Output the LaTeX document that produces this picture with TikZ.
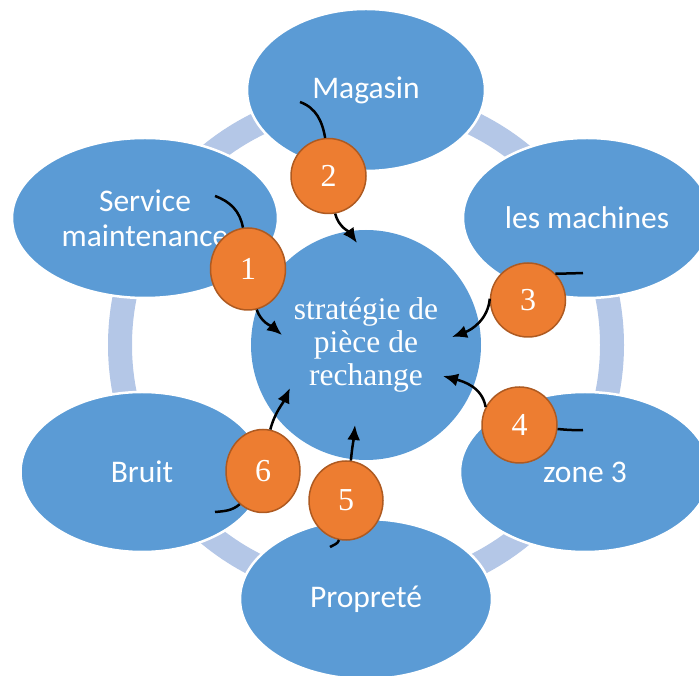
\documentclass[tikz,border=0pt]{standalone}
\usepackage{fontspec}
\setmainfont{Liberation Serif}
\newfontfamily\calibri{Carlito}
\usetikzlibrary{shapes.geometric,arrows.meta}
\definecolor{petalblue}{HTML}{5B9BD5}
\definecolor{ringblue}{HTML}{B4C7E7}
\definecolor{badgeorange}{HTML}{ED7D31}
\definecolor{badgeedge}{HTML}{AE5A21}
\begin{document}
\begin{tikzpicture}[x=1pt,y=1pt,
        petal/.style={ellipse,fill=petalblue,draw=white,line width=2.5pt,text=white,align=center,
            font=\calibri\fontsize{31.5}{35}\selectfont},
        hub/.style={circle,fill=petalblue,minimum size=230pt,text=white,align=center,
            font=\fontsize{31.5}{33}\selectfont},
        badge/.style={ellipse,fill=badgeorange,draw=badgeedge,line width=1.5pt,text=white,
            minimum width=75pt,minimum height=75pt,font=\fontsize{32}{32}\selectfont},
        flow/.style={line width=2.5pt},
        tip/.style={flow,-{Latex[length=15pt,width=13pt]}}]
                \useasboundingbox (0,0) rectangle (699,675) ;
                \draw [ringblue,line width=24pt] (366,330) circle (246) ;
                \draw (366,585) node [petal,minimum width=238pt,minimum height=162pt] (mag) {Magasin} ;
                \draw (145,457) node [petal,minimum width=266pt,minimum height=160pt] (serv) {Service\\maintenance} ;
                \draw (587,457) node [petal,minimum width=248pt,minimum height=160pt] (mach) {les machines} ;
                \draw (585,203) node [petal,minimum width=250pt,minimum height=160pt] (zone) {zone 3} ;
                \draw (142,203) node [petal,minimum width=243pt,minimum height=160pt] (bruit) {Bruit} ;
                \draw (366,76) node [petal,minimum width=252pt,minimum height=160pt] (prop) {Propreté} ;
                \draw (366,330) node [hub] (strat) {stratégie de\\pièce de\\rechange} ;
                \draw (248,406) node [badge,minimum height=82pt] (n1) {1} ;
                \draw (328.5,499) node [badge] (n2) {2} ;
                \draw (528,375) node [badge,minimum height=74pt] (n3) {3} ;
                \draw (519.5,250) node [badge,minimum height=76pt] (n4) {4} ;
                \draw (346,174.5) node [badge,minimum width=74pt,minimum height=79pt] (n5) {5} ;
                \draw (263,204) node [badge,minimum width=74pt,minimum height=83pt] (n6) {6} ;
                \coordinate (a1) at (215,479) ; \coordinate (b1) at (282,340) ;
                \coordinate (a2) at (300,573) ; \coordinate (b2) at (357,432) ;
                \coordinate (a3) at (583,402) ; \coordinate (b3) at (452,338) ;
                \coordinate (a4) at (583,245) ; \coordinate (b4) at (443,299) ;
                \coordinate (a5) at (330,128) ; \coordinate (b5) at (355,250) ;
                \coordinate (a6) at (215,163) ; \coordinate (b6) at (290,287) ;
                \draw [flow] (a1) to [out=-20,in=100] (n1.97) ;
                \draw [tip] (n1.-78) to [out=-70,in=140] (b1) ;
                \draw [flow] (a2) to [out=-20,in=100] (n2.95) ;
                \draw [tip] (n2.-80) to [out=-75,in=125] (b2) ;
                \draw [flow] (a3) to [out=182,in=0] (n3.44) ;
                \draw [tip] (n3.178) to [out=-95,in=20] (b3) ;
                \draw [flow] (a4) to [out=182,in=-5] (n4.-6) ;
                \draw [tip] (n4.152) to [out=100,in=-15] (b4) ;
                \draw [flow] (a5) to [out=30,in=-110] (n5.-100) ;
                \draw [tip] (n5.83) to [out=85,in=-95] (b5) ;
                \draw [flow] (a6) to [out=5,in=-140] (n6.-125) ;
                \draw [tip] (n6.80) to [out=75,in=-115] (b6) ;
            \end{tikzpicture}
\end{document}
